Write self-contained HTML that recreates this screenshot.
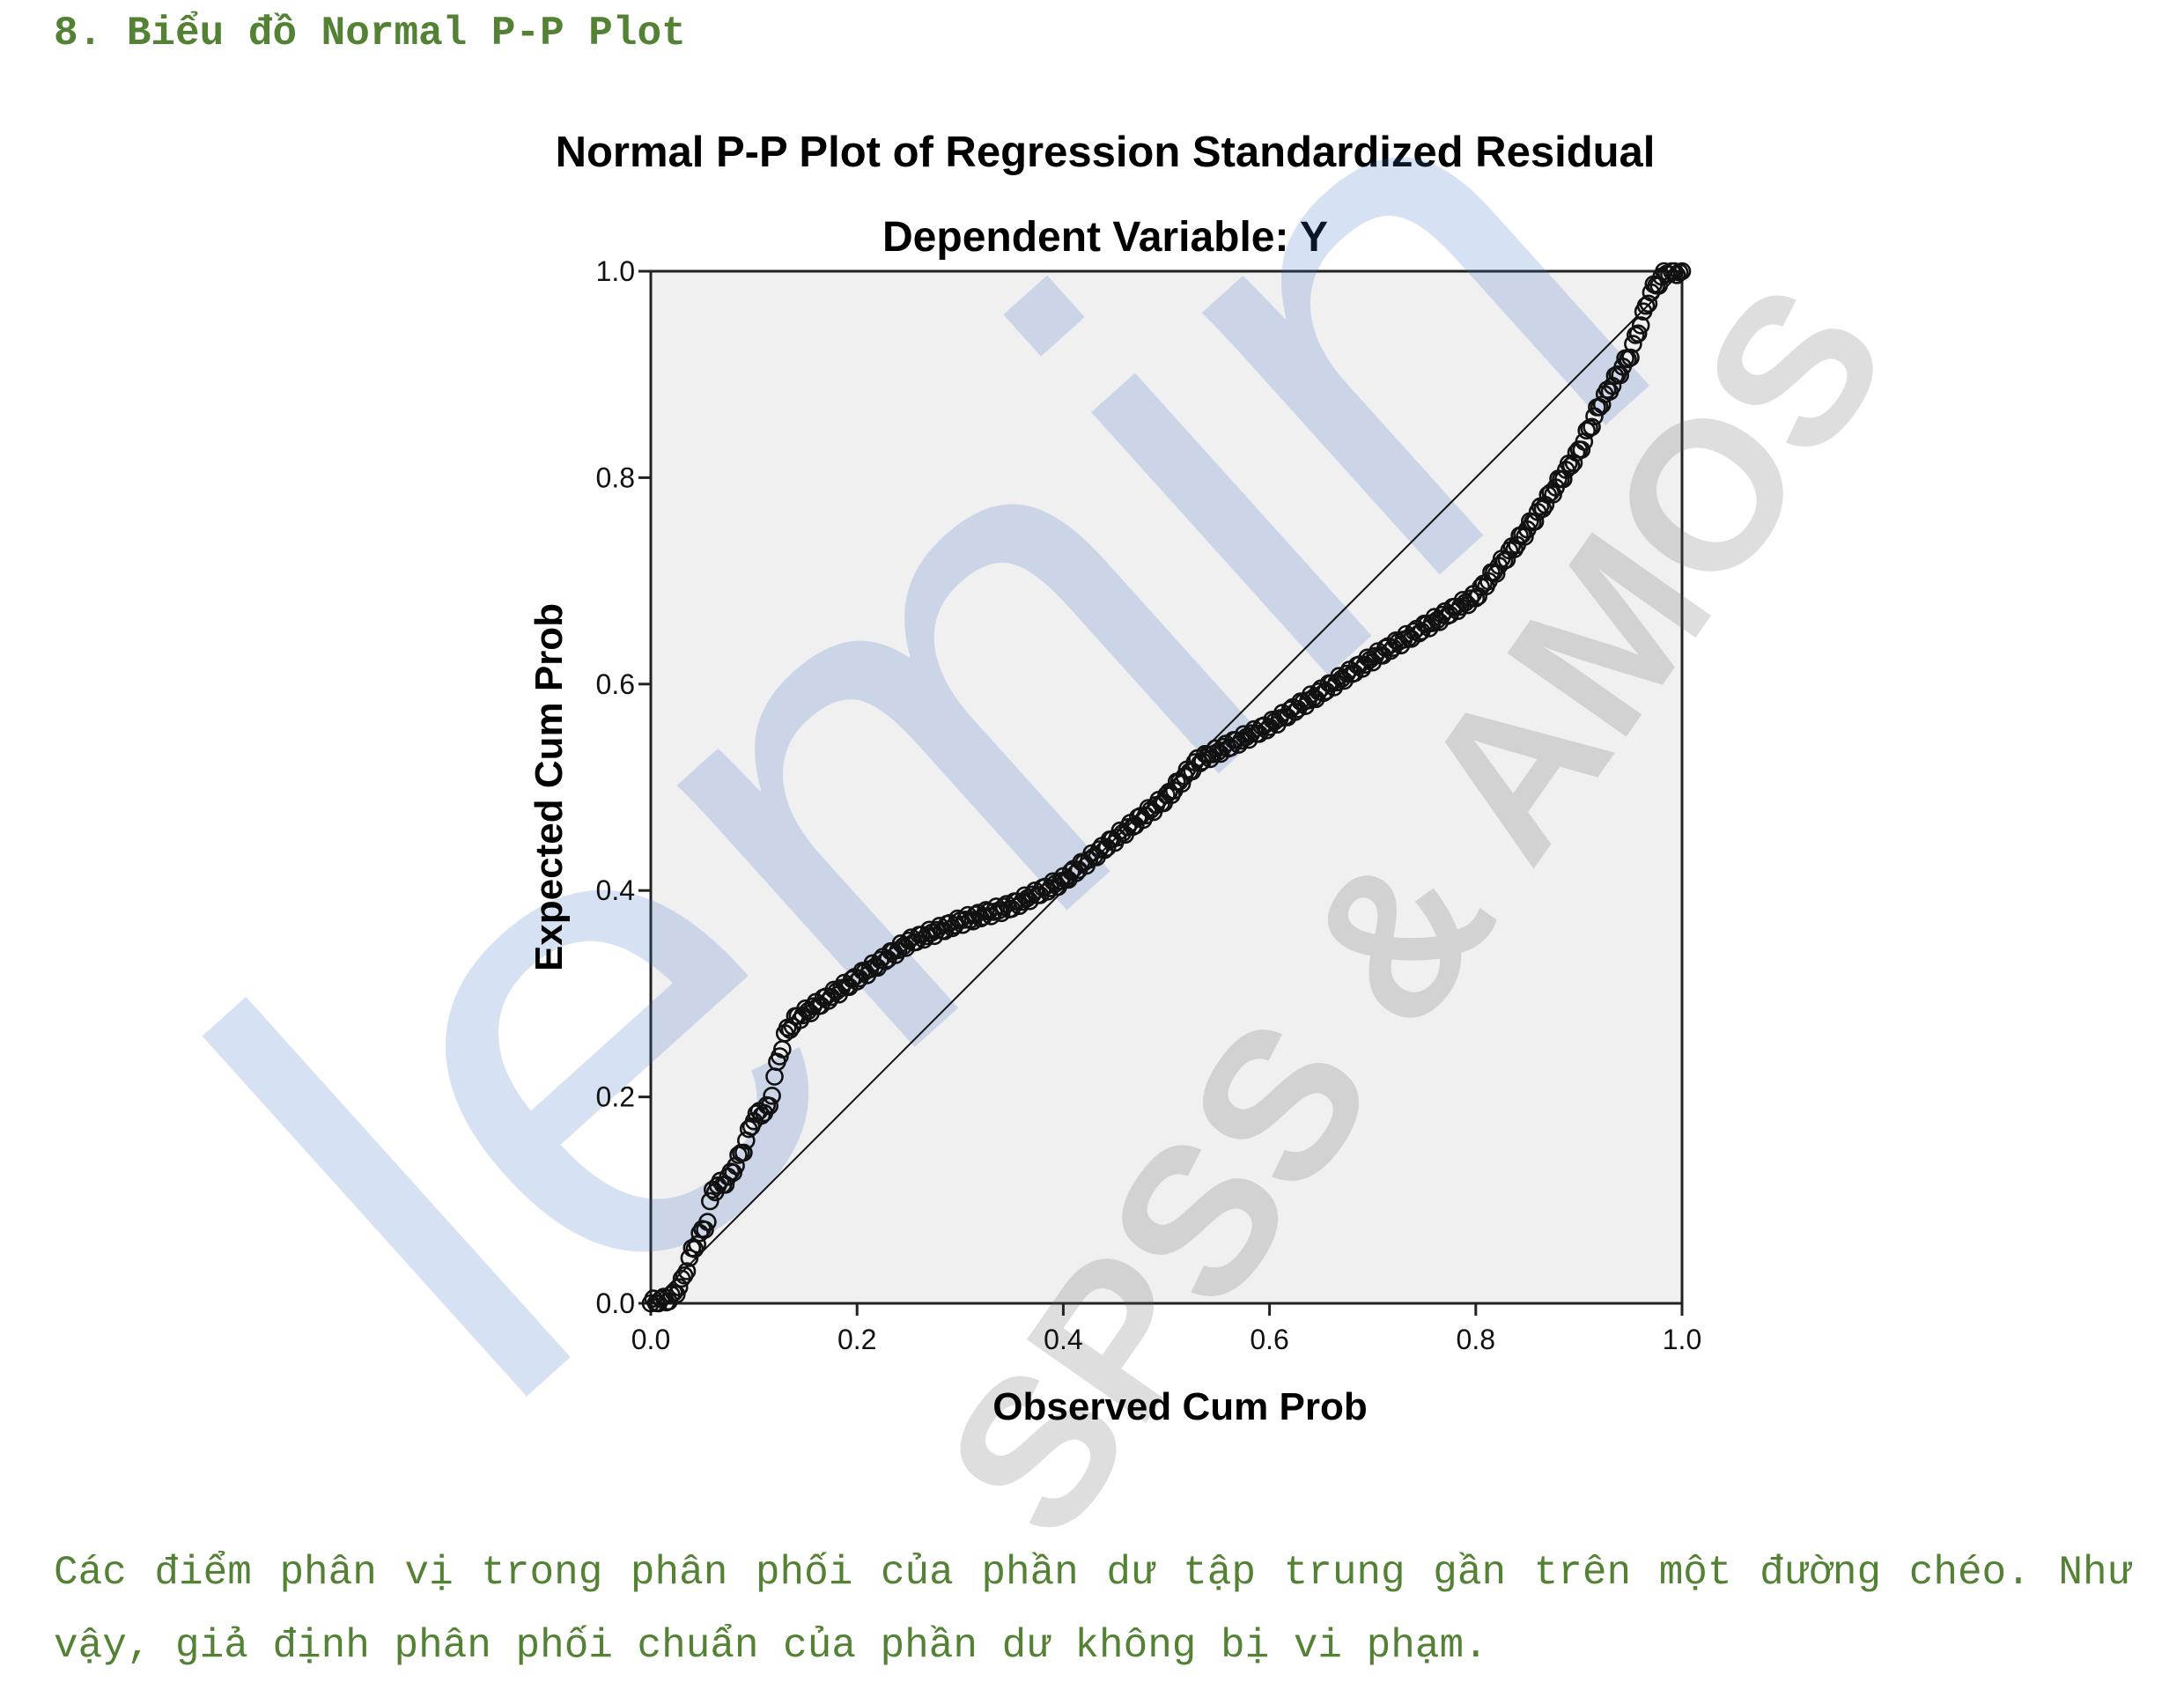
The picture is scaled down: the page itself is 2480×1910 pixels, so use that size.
<!DOCTYPE html>
<html><head><meta charset="utf-8"><style>
html,body{margin:0;padding:0;background:#fff;}
body{width:2480px;height:1910px;position:relative;overflow:hidden;}
.g{position:absolute;font-family:"Liberation Mono",monospace;color:#548235;white-space:nowrap;}
</style></head><body>
<div class="g" style="left:61px;top:12px;font-size:46px;font-weight:bold;">8. Biểu đồ Normal P-P Plot</div>
<svg width="2480" height="1910" style="position:absolute;left:0;top:0" id="s" font-family="Liberation Sans, Arial, sans-serif">
<text x="1255" y="189" font-size="49" font-weight="bold" text-anchor="middle">Normal P-P Plot of Regression Standardized Residual</text>
<text x="1255" y="285" font-size="48" font-weight="bold" text-anchor="middle">Dependent Variable: Y</text>
<rect x="739" y="308" width="1171" height="1172" fill="#f0f0f0" stroke="#222" stroke-width="3"/>
<g opacity="0.2">
<text x="0" y="0" font-size="760" fill="#3a6fc4" transform="translate(560,1620) rotate(-42)">lemin</text>
<text x="0" y="0" font-size="240" font-weight="bold" fill="#606060" transform="translate(1200,1760) rotate(-55)">SPSS &amp; AMOS</text>
</g>
<line x1="739" y1="1480" x2="1910" y2="308" stroke="#111" stroke-width="2"/>
<g id="ax" stroke="#222" stroke-width="3"></g>
<g id="lab" font-size="32" fill="#111"></g>
<g id="pts" fill="none" stroke="#111" stroke-width="2.6"></g>
<text x="1340" y="1612" font-size="44" font-weight="bold" text-anchor="middle">Observed Cum Prob</text>
<text font-size="44" font-weight="bold" text-anchor="middle" transform="translate(638,894) rotate(-90)">Expected Cum Prob</text>
</svg>
<div class="g" style="left:61px;top:1760px;font-size:46px;word-spacing:4px;">Các điểm phân vị trong phân phối của phần dư tập trung gần trên một đường chéo. Như</div>
<div class="g" style="left:61px;top:1843px;font-size:46px;">vậy, giả định phân phối chuẩn của phần dư không bị vi phạm.</div>
<script>
var NS="http://www.w3.org/2000/svg";
function el(t,a,p){var e=document.createElementNS(NS,t);for(var k in a)e.setAttribute(k,a[k]);document.getElementById(p).appendChild(e);return e;}
var L=739,R=1910,T=308,B=1480,W=R-L,H=B-T;
for(var i=0;i<=5;i++){var v=i*0.2;
 var y=B-v*H;el("line",{x1:L-14,y1:y,x2:L,y2:y},"ax");
 var t=el("text",{x:L-18,y:y+11,"text-anchor":"end"},"lab");t.textContent=v.toFixed(1);
 var x=L+v*W;el("line",{x1:x,y1:B,x2:x,y2:B+14},"ax");
 var t2=el("text",{x:x,y:B+52,"text-anchor":"middle"},"lab");t2.textContent=v.toFixed(1);}
var P=[[0,0],[0.02,0.005],[0.03,0.02],[0.04,0.05],[0.055,0.08],[0.06,0.11],[0.075,0.12],[0.09,0.15],[0.1,0.18],[0.115,0.19],[0.12,0.22],[0.13,0.26],[0.14,0.275],[0.2,0.315],[0.25,0.35],[0.3,0.37],[0.35,0.385],[0.4,0.41],[0.45,0.45],[0.5,0.49],[0.53,0.525],[0.6,0.56],[0.7,0.625],[0.8,0.685],[0.85,0.75],[0.9,0.825],[0.92,0.87],[0.95,0.92],[0.97,0.98],[0.985,1],[1,1]];
function f(x){for(var i=1;i<P.length;i++){if(x<=P[i][0]){var a=P[i-1],b=P[i];return a[1]+(b[1]-a[1])*(x-a[0])/(b[0]-a[0]);}}return 1;}
for(var i=0;i<=400;i++){var x=i/400;var y=f(x)+0.004*Math.sin(i*1.7);
 if(y<0)y=0;if(y>1)y=1;
 el("circle",{cx:(L+x*W).toFixed(1),cy:(B-y*H).toFixed(1),r:9},"pts");}
</script>
</body></html>
